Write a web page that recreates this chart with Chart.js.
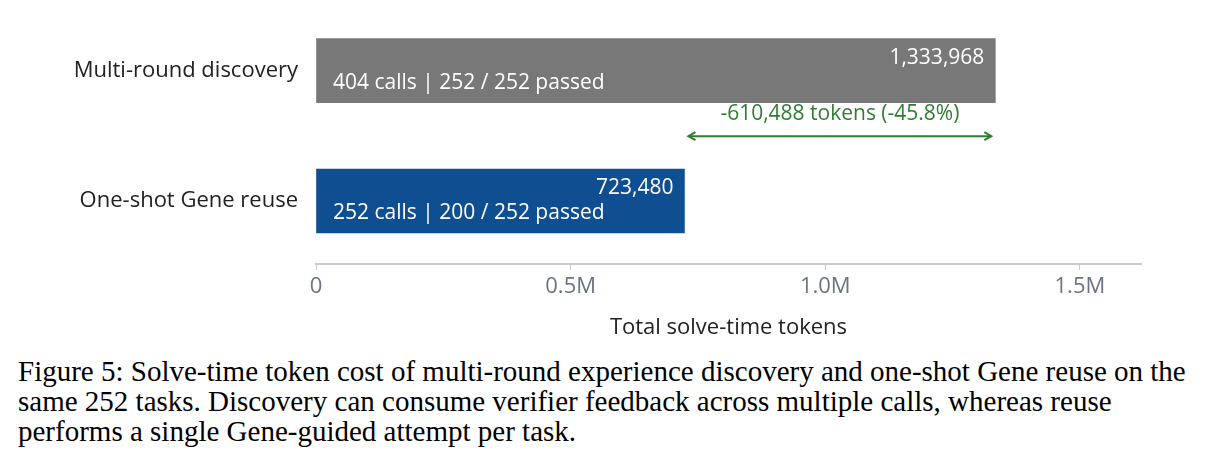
<!DOCTYPE html>
<html><head><meta charset="utf-8">
<script src="https://cdn.jsdelivr.net/npm/chart.js@4"></script>
<style>
body{margin:0;background:#fff;width:1218px;height:469px;overflow:hidden}
#wrap{position:absolute;left:0;top:0;width:1218px;height:345px}
#cap{position:absolute;left:18px;top:356px;width:1195px;font-family:"Liberation Serif","DejaVu Serif",serif;font-size:29px;line-height:30px;color:#000}
</style></head><body>
<div id="wrap"><canvas id="c"></canvas></div>
<div id="cap">Figure 5: Solve-time token cost of multi-round experience discovery and one-shot Gene reuse on the same 252 tasks. Discovery can consume verifier feedback across multiple calls, whereas reuse performs a single Gene-guided attempt per task.</div>
<script>
const categories = ['Multi-round discovery', 'One-shot Gene reuse'];
const tokens = [1333968, 723480];
const details = ['404 calls | 252 / 252 passed', '252 calls | 200 / 252 passed'];
const barColors = ['#787878', '#104e92'];
const xTicks = [0, 500000, 1000000, 1500000];
const xTickLabels = ['0', '0.5M', '1.0M', '1.5M'];
const deltaText = '-610,488 tokens (-45.8%)';

const FONT = '"Open Sans","Noto Sans",sans-serif';
const inside = {
  id: 'inside',
  afterDatasetsDraw(chart) {
    const ctx = chart.ctx, xs = chart.scales.x, ys = chart.scales.y;
    ctx.save();
    ctx.font = '21px ' + FONT; ctx.fillStyle = '#fff'; ctx.textBaseline = 'middle';
    tokens.forEach((v, i) => {
      const yc = ys.getPixelForValue(i);
      ctx.textAlign = 'right';
      ctx.fillText(v.toLocaleString('en-US'), xs.getPixelForValue(v) - 11, yc - 13);
      ctx.textAlign = 'left';
      ctx.fillText(details[i], xs.getPixelForValue(0) + 17, yc + 12);
    });
    const x1 = xs.getPixelForValue(tokens[1]), x2 = xs.getPixelForValue(tokens[0]);
    const ya = ys.getPixelForValue(0.503);
    ctx.strokeStyle = '#2e7d32'; ctx.fillStyle = '#2e7d32'; ctx.lineWidth = 2;
    ctx.beginPath(); ctx.moveTo(x1 + 4, ya); ctx.lineTo(x2 - 4, ya); ctx.stroke();
    ctx.beginPath(); ctx.moveTo(x1 + 11, ya - 4); ctx.lineTo(x1 + 4, ya); ctx.lineTo(x1 + 11, ya + 4); ctx.stroke();
    ctx.beginPath(); ctx.moveTo(x2 - 11, ya - 4); ctx.lineTo(x2 - 4, ya); ctx.lineTo(x2 - 11, ya + 4); ctx.stroke();
    ctx.textAlign = 'center';
    ctx.fillText(deltaText, (x1 + x2) / 2, ys.getPixelForValue(0.336));
    ctx.restore();
  }
};

new Chart(document.getElementById('c'), {
  type: 'bar',
  data: {
    datasets: [{
      data: tokens.map((v, i) => ({ x: v, y: i })),
      backgroundColor: barColors,
      barThickness: 64
    }]
  },
  options: {
    indexAxis: 'y', responsive: true, maintainAspectRatio: false, animation: false,
    layout: { padding: { left: 0, right: 77, top: 0, bottom: 0 } },
    plugins: { legend: { display: false }, tooltip: { enabled: false } },
    scales: {
      y: {
        type: 'linear', reverse: true, min: -0.364, max: 1.483, offset: false,
        grid: { display: false, offset: false }, border: { display: false },
        afterBuildTicks(s) { s.ticks = categories.map((_, i) => ({ value: i })); },
        ticks: { callback: (v) => categories[v], color: '#222', font: { size: 22, family: FONT }, padding: 10 },
        afterFit(s) { s.width = 316; }
      },
      x: {
        type: 'linear', min: 0, max: 1620000,
        afterBuildTicks(s) { s.ticks = xTicks.map(v => ({ value: v })); },
        grid: { drawOnChartArea: false, tickLength: 6, color: '#c8ccd2' },
        border: { color: '#c8ccd2', width: 2 },
        ticks: { callback: (v) => xTickLabels[xTicks.indexOf(v)], color: '#6b7385', font: { size: 22, family: FONT }, padding: 4 },
        title: { display: true, text: 'Total solve-time tokens', color: '#222', font: { size: 22, family: FONT }, padding: { top: 4 } },
        afterFit(s) { s.height = 81; }
      }
    }
  },
  plugins: [inside]
});
</script></body></html>
